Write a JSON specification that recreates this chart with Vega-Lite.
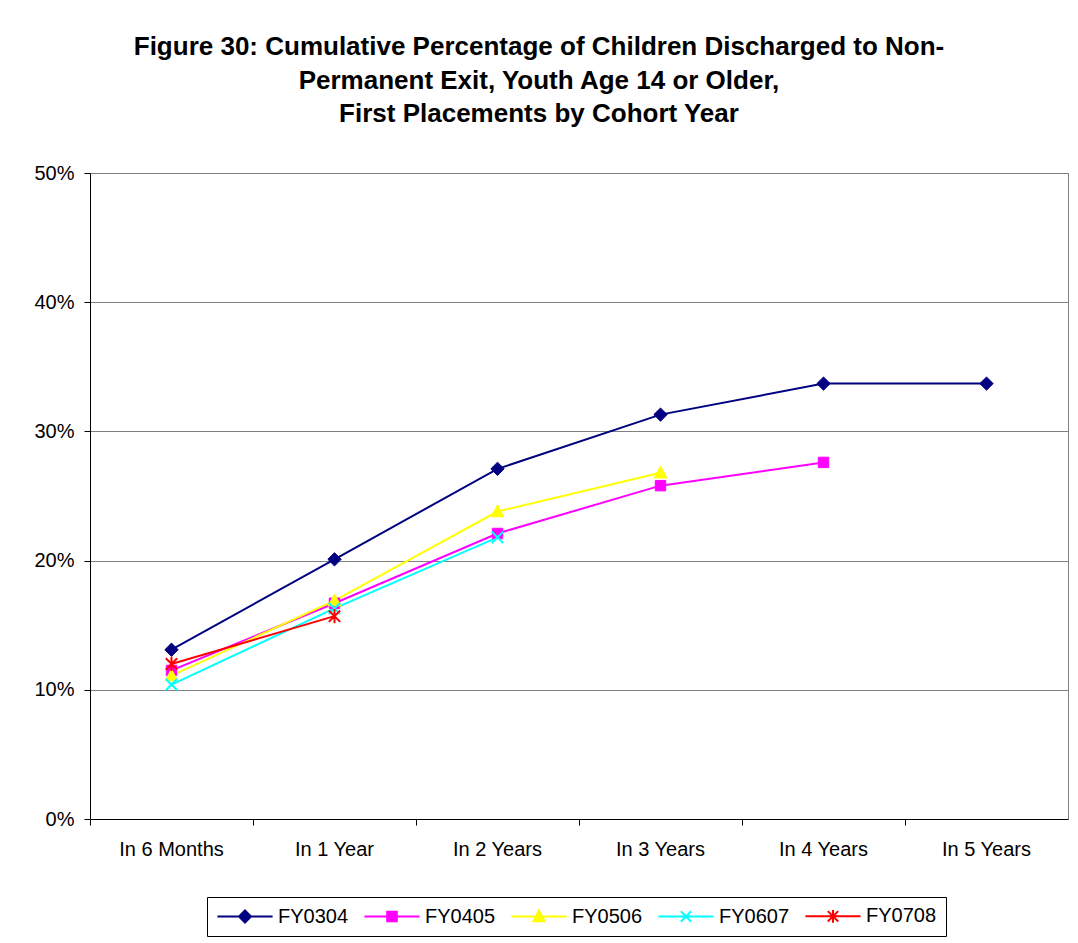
{
  "$schema": "https://vega.github.io/schema/vega-lite/v6.json",
  "autosize": {"type": "none"},
  "width": 978,
  "height": 646,
  "padding": {"left": 90, "top": 173, "right": 10, "bottom": 124},
  "background": "white",
  "title": {
    "text": ["Figure 30: Cumulative Percentage of Children Discharged to Non-", "Permanent Exit, Youth Age 14 or Older,", "First Placements by Cohort Year"],
    "font": "Liberation Sans",
    "fontSize": 26,
    "fontWeight": "bold",
    "color": "black",
    "lineHeight": 33.5,
    "anchor": "middle",
    "dx": -40,
    "offset": 36
  },
  "config": {
    "view": {"stroke": "#808080", "strokeWidth": 1},
    "axis": {"labelFont": "Liberation Sans", "labelColor": "black", "titleFont": "Liberation Sans"}
  },
  "data": {
    "values": [
      {"period": "In 6 Months", "series": "FY0304", "value": 0.131},
      {"period": "In 1 Year", "series": "FY0304", "value": 0.201},
      {"period": "In 2 Years", "series": "FY0304", "value": 0.271},
      {"period": "In 3 Years", "series": "FY0304", "value": 0.313},
      {"period": "In 4 Years", "series": "FY0304", "value": 0.337},
      {"period": "In 5 Years", "series": "FY0304", "value": 0.337},
      {"period": "In 6 Months", "series": "FY0405", "value": 0.115},
      {"period": "In 1 Year", "series": "FY0405", "value": 0.167},
      {"period": "In 2 Years", "series": "FY0405", "value": 0.221},
      {"period": "In 3 Years", "series": "FY0405", "value": 0.258},
      {"period": "In 4 Years", "series": "FY0405", "value": 0.276},
      {"period": "In 6 Months", "series": "FY0506", "value": 0.111},
      {"period": "In 1 Year", "series": "FY0506", "value": 0.169},
      {"period": "In 2 Years", "series": "FY0506", "value": 0.238},
      {"period": "In 3 Years", "series": "FY0506", "value": 0.268},
      {"period": "In 6 Months", "series": "FY0607", "value": 0.104},
      {"period": "In 1 Year", "series": "FY0607", "value": 0.163},
      {"period": "In 2 Years", "series": "FY0607", "value": 0.218},
      {"period": "In 6 Months", "series": "FY0708", "value": 0.120},
      {"period": "In 1 Year", "series": "FY0708", "value": 0.157}
    ]
  },
  "encoding": {
    "x": {
      "field": "period",
      "type": "ordinal",
      "sort": ["In 6 Months", "In 1 Year", "In 2 Years", "In 3 Years", "In 4 Years", "In 5 Years"],
      "scale": {"type": "band", "paddingInner": 0, "paddingOuter": 0},
      "axis": {
        "title": null,
        "labelAngle": 0,
        "labelFontSize": 20,
        "labelPadding": 14,
        "bandPosition": 0,
        "tickSize": 6,
        "tickColor": "black",
        "domainColor": "black",
        "grid": false
      }
    },
    "y": {
      "field": "value",
      "type": "quantitative",
      "scale": {"domain": [0, 0.5], "nice": false},
      "axis": {
        "title": null,
        "values": [0, 0.1, 0.2, 0.3, 0.4, 0.5],
        "format": ".0%",
        "labelFontSize": 20,
        "labelPadding": 10,
        "tickSize": 6,
        "tickColor": "black",
        "domainColor": "black",
        "gridColor": "#808080",
        "gridOpacity": 1
      }
    }
  },
  "layer": [
    {
      "mark": {"type": "line", "strokeWidth": 2},
      "encoding": {
        "color": {
          "field": "series",
          "type": "nominal",
          "scale": {"domain": ["FY0304", "FY0405", "FY0506", "FY0607", "FY0708"], "range": ["#000080", "#FF00FF", "#FFFF00", "#00FFFF", "#FF0000"]},
          "legend": {
            "title": null,
            "orient": "none",
            "legendX": 117,
            "legendY": 724,
            "direction": "horizontal",
            "strokeColor": "black",
            "padding": 9,
            "labelFont": "Liberation Sans",
            "labelFontSize": 20,
            "labelColor": "black",
            "symbolSize": 64,
            "symbolOffset": 19,
            "labelOffset": 23,
            "columnPadding": 11,
            "encode": {
              "symbols": {
                "update": {
                  "shape": {"signal": "datum.value == 'FY0304' ? 'M-6.9,0H6.9M0,-1.5L1.5,0L0,1.5L-1.5,0Z' : datum.value == 'FY0405' ? 'M-6.9,0H6.9M-1.2,-1.2H1.2V1.2H-1.2Z' : datum.value == 'FY0506' ? 'M-6.9,0H6.9M0,-1.5L1.4,1.2H-1.4Z' : datum.value == 'FY0607' ? 'M-6.9,0H6.9M-1.3,-1.3L1.3,1.3M-1.3,1.3L1.3,-1.3' : 'M-6.9,0H6.9M-1.3,-1.3L1.3,1.3M-1.3,1.3L1.3,-1.3M0,-1.6V1.6'"},
                  "fill": {"signal": "scale('color', datum.value)"},
                  "fillOpacity": {"value": 1},
                  "stroke": {"signal": "scale('color', datum.value)"},
                  "strokeWidth": {"value": 2}
                }
              }
            }
          }
        }
      }
    },
    {
      "transform": [{"filter": "datum.series == 'FY0304'"}],
      "mark": {"type": "point", "shape": "M0,-1.4L1.4,0L0,1.4L-1.4,0Z", "filled": true, "opacity": 1, "size": 90, "fill": "#000080", "stroke": "#000080", "strokeWidth": 1}
    },
    {
      "transform": [{"filter": "datum.series == 'FY0405'"}],
      "mark": {"type": "point", "shape": "M-1.1,-1.1H1.1V1.1H-1.1Z", "filled": true, "opacity": 1, "size": 90, "fill": "#FF00FF", "stroke": "#FF00FF", "strokeWidth": 1}
    },
    {
      "transform": [{"filter": "datum.series == 'FY0506'"}],
      "mark": {"type": "point", "shape": "M0,-1.4L1.35,1.1H-1.35Z", "filled": true, "opacity": 1, "size": 90, "fill": "#FFFF00", "stroke": "#FFFF00", "strokeWidth": 1}
    },
    {
      "transform": [{"filter": "datum.series == 'FY0607'"}],
      "mark": {"type": "point", "shape": "M-1.2,-1.2L1.2,1.2M-1.2,1.2L1.2,-1.2", "filled": false, "opacity": 1, "size": 90, "stroke": "#00FFFF", "strokeWidth": 2}
    },
    {
      "transform": [{"filter": "datum.series == 'FY0708'"}],
      "mark": {"type": "point", "shape": "M-1.2,-1.2L1.2,1.2M-1.2,1.2L1.2,-1.2M0,-1.5V1.5", "filled": false, "opacity": 1, "size": 90, "stroke": "#FF0000", "strokeWidth": 2}
    }
  ]
}
